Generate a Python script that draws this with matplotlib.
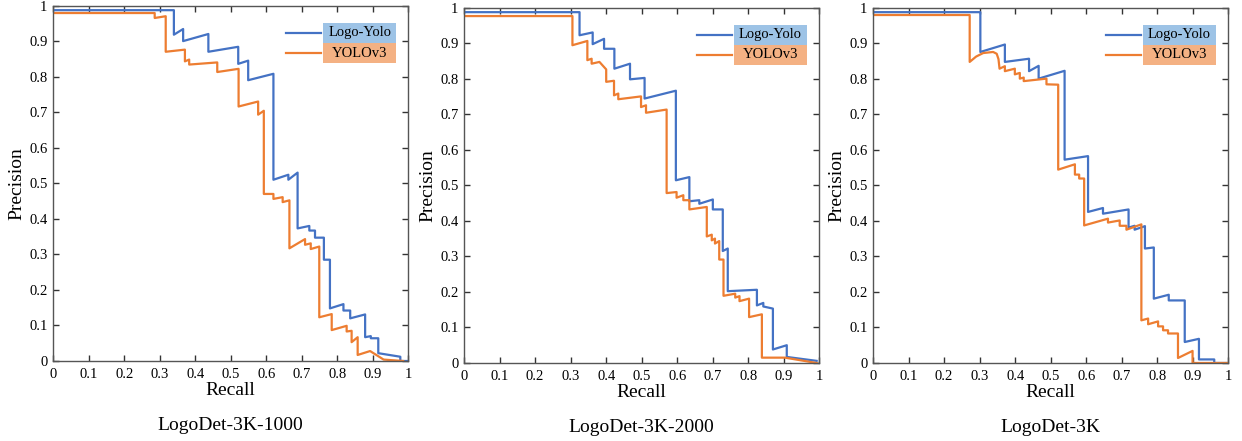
import matplotlib.pyplot as plt
from matplotlib.patches import Rectangle
from matplotlib.lines import Line2D

plt.rcParams['font.family'] = ['Liberation Serif', 'DejaVu Serif']

# ---- LogoDet-3K-1000 ----
r1_logo = [0, 0.34, 0.34, 0.366, 0.366, 0.437, 0.437, 0.521, 0.521, 0.549, 0.549, 0.62, 0.62,
           0.662, 0.662, 0.688, 0.688, 0.721, 0.721, 0.737, 0.737, 0.762, 0.762, 0.779, 0.779,
           0.817, 0.817, 0.836, 0.836, 0.878, 0.878, 0.894, 0.894, 0.915, 0.915, 0.977, 0.977, 1.0]
p1_logo = [0.987, 0.987, 0.918, 0.934, 0.9, 0.92, 0.87, 0.884, 0.836, 0.845, 0.79, 0.808, 0.51,
           0.524, 0.51, 0.53, 0.373, 0.38, 0.367, 0.367, 0.347, 0.347, 0.285, 0.285, 0.148,
           0.16, 0.142, 0.142, 0.12, 0.131, 0.067, 0.07, 0.064, 0.064, 0.022, 0.012, 0.0, 0.0]
r1_yolo = [0, 0.286, 0.286, 0.317, 0.317, 0.371, 0.371, 0.383, 0.383, 0.462, 0.462, 0.522, 0.522,
           0.577, 0.577, 0.593, 0.593, 0.62, 0.62, 0.646, 0.646, 0.665, 0.665, 0.709, 0.709,
           0.725, 0.725, 0.749, 0.749, 0.784, 0.784, 0.826, 0.826, 0.84, 0.84, 0.857, 0.857,
           0.892, 0.93, 0.985]
p1_yolo = [0.979, 0.979, 0.965, 0.97, 0.87, 0.876, 0.843, 0.848, 0.834, 0.84, 0.813, 0.822, 0.716,
           0.73, 0.693, 0.704, 0.47, 0.47, 0.456, 0.461, 0.447, 0.452, 0.317, 0.343, 0.327,
           0.331, 0.315, 0.322, 0.123, 0.132, 0.087, 0.099, 0.083, 0.085, 0.053, 0.067, 0.017,
           0.028, 0.004, 0.0]

# ---- LogoDet-3K-2000 ----
r2_logo = [0, 0.325, 0.325, 0.362, 0.362, 0.394, 0.394, 0.423, 0.423, 0.467, 0.467, 0.508, 0.508,
           0.596, 0.596, 0.634, 0.634, 0.662, 0.662, 0.7, 0.7, 0.728, 0.728, 0.742, 0.742,
           0.824, 0.824, 0.842, 0.842, 0.869, 0.869, 0.908, 0.908, 0.992]
p2_logo = [0.987, 0.987, 0.922, 0.93, 0.897, 0.912, 0.884, 0.884, 0.828, 0.842, 0.798, 0.802, 0.744,
           0.766, 0.514, 0.523, 0.455, 0.458, 0.448, 0.46, 0.432, 0.432, 0.315, 0.322, 0.202,
           0.206, 0.162, 0.169, 0.159, 0.153, 0.038, 0.05, 0.017, 0.006]
r2_yolo = [0, 0.305, 0.305, 0.347, 0.347, 0.359, 0.359, 0.381, 0.4, 0.4, 0.422, 0.422, 0.434, 0.434,
           0.498, 0.498, 0.512, 0.512, 0.57, 0.57, 0.598, 0.598, 0.617, 0.617, 0.634, 0.634,
           0.683, 0.683, 0.697, 0.697, 0.706, 0.706, 0.718, 0.718, 0.73, 0.73, 0.763, 0.763,
           0.775, 0.775, 0.802, 0.802, 0.838, 0.838, 0.903, 0.992]
p2_yolo = [0.976, 0.976, 0.894, 0.906, 0.852, 0.856, 0.842, 0.847, 0.826, 0.791, 0.794, 0.753, 0.758,
           0.742, 0.75, 0.72, 0.725, 0.704, 0.713, 0.478, 0.481, 0.465, 0.472, 0.458, 0.458,
           0.432, 0.439, 0.356, 0.361, 0.345, 0.35, 0.336, 0.343, 0.291, 0.291, 0.189, 0.195,
           0.184, 0.188, 0.174, 0.181, 0.129, 0.137, 0.015, 0.015, 0.0]

# ---- LogoDet-3K ----
r3_logo = [0, 0.302, 0.302, 0.371, 0.371, 0.439, 0.439, 0.466, 0.466, 0.539, 0.539, 0.605, 0.605,
           0.647, 0.647, 0.719, 0.719, 0.736, 0.736, 0.765, 0.765, 0.79, 0.79, 0.832, 0.832,
           0.877, 0.877, 0.917, 0.917, 0.96, 0.96, 1.0]
p3_logo = [0.987, 0.987, 0.875, 0.896, 0.847, 0.856, 0.821, 0.836, 0.8, 0.822, 0.572, 0.582, 0.425,
           0.436, 0.42, 0.432, 0.381, 0.386, 0.375, 0.385, 0.322, 0.325, 0.181, 0.192, 0.176,
           0.176, 0.059, 0.068, 0.01, 0.01, 0.0, 0.0]
r3_yolo = [0, 0.272, 0.272, 0.29, 0.31, 0.338, 0.348, 0.353, 0.356, 0.371, 0.371, 0.399, 0.399,
           0.413, 0.413, 0.424, 0.424, 0.488, 0.488, 0.521, 0.521, 0.568, 0.568, 0.58, 0.58,
           0.594, 0.594, 0.661, 0.661, 0.694, 0.694, 0.713, 0.713, 0.755, 0.755, 0.774, 0.774,
           0.802, 0.802, 0.816, 0.816, 0.83, 0.83, 0.858, 0.858, 0.899, 0.899, 0.996]
p3_yolo = [0.979, 0.979, 0.847, 0.862, 0.872, 0.875, 0.87, 0.855, 0.828, 0.835, 0.821, 0.828, 0.812,
           0.816, 0.8, 0.803, 0.793, 0.8, 0.784, 0.783, 0.544, 0.559, 0.53, 0.53, 0.519,
           0.519, 0.387, 0.406, 0.395, 0.401, 0.386, 0.386, 0.375, 0.39, 0.12, 0.125, 0.109,
           0.117, 0.103, 0.103, 0.092, 0.092, 0.083, 0.083, 0.014, 0.034, 0.0, 0.0]

titles = ['LogoDet-3K-1000', 'LogoDet-3K-2000', 'LogoDet-3K']
series = [(r1_logo, p1_logo, r1_yolo, p1_yolo),
          (r2_logo, p2_logo, r2_yolo, p2_yolo),
          (r3_logo, p3_logo, r3_yolo, p3_yolo)]
names = ['Logo-Yolo', 'YOLOv3']

blue = '#4472C4'
orange = '#ED7D31'
blue_box = '#9DC3E6'
orange_box = '#F4B183'

fig = plt.figure(figsize=(12.42, 4.41), dpi=100)
lefts = [0.0427, 0.3736, 0.7029]
bottoms = [0.1814, 0.1769, 0.1769]

ticks = [0, 0.1, 0.2, 0.3, 0.4, 0.5, 0.6, 0.7, 0.8, 0.9, 1]
ticklabels = ['0', '0.1', '0.2', '0.3', '0.4', '0.5', '0.6', '0.7', '0.8', '0.9', '1']

for i in range(3):
    ax = fig.add_axes([lefts[i], bottoms[i], 0.2862, 0.806])
    rl, pl, ry, py = series[i]
    ax.plot(rl, pl, color=blue, linewidth=1.6)
    ax.plot(ry, py, color=orange, linewidth=1.6)
    ax.set_xlim(0, 1)
    ax.set_ylim(0, 1)
    ax.set_xticks(ticks)
    ax.set_xticklabels(ticklabels, fontsize=10.5)
    ax.set_yticks(ticks)
    ax.set_yticklabels(ticklabels, fontsize=10.5)
    ax.tick_params(direction='in', length=4, width=1, top=True, right=True, color='#333333')
    ax.tick_params(axis='x', pad=5)
    ax.tick_params(axis='y', pad=4)
    for s in ax.spines.values():
        s.set_color('#555555')
        s.set_linewidth(1)
    ax.set_xlabel('Recall', fontsize=14, labelpad=1)
    ax.set_ylabel('Precision', fontsize=14, labelpad=3)
    ax.text(0.5, -0.182, titles[i], transform=ax.transAxes, ha='center', va='center', fontsize=14)

    # legend with coloured label boxes
    for k, (c, bc) in enumerate([(blue, blue_box), (orange, orange_box)]):
        y0 = 0.952 - k * 0.057
        ax.add_patch(Rectangle((0.76, y0 - 0.057), 0.205, 0.057, transform=ax.transAxes,
                               facecolor=bc, edgecolor='none', zorder=3))
        ax.add_line(Line2D([0.655, 0.755], [y0 - 0.0285, y0 - 0.0285], transform=ax.transAxes,
                           color=c, linewidth=1.6, zorder=3))
        ax.text(0.8625, y0 - 0.0285, names[k], transform=ax.transAxes, ha='center',
                va='center', fontsize=10.5, zorder=4)

fig.savefig('out.png', dpi=100)
